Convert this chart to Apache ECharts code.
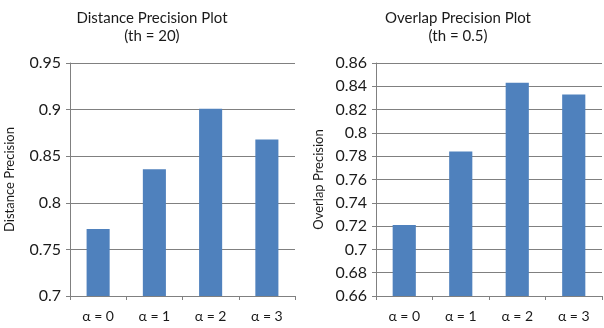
<!DOCTYPE html>
<html><head><meta charset="utf-8">
<script src="https://cdn.jsdelivr.net/npm/echarts@6/dist/echarts.min.js"></script>
<style>html,body{margin:0;padding:0;background:#fff}#c{width:604px;height:328px}</style>
</head><body><div id="c"></div>
<script>
var categories = ['α = 0', 'α = 1', 'α = 2', 'α = 3'];
var distancePrecision = [0.772, 0.836, 0.901, 0.868];
var overlapPrecision = [0.721, 0.784, 0.843, 0.833];
var leftTitle = 'Distance Precision Plot\n(th = 20)';
var rightTitle = 'Overlap Precision Plot\n(th = 0.5)';
var leftAxisName = 'Distance Precision';
var rightAxisName = 'Overlap Precision';

var FONT = 'Lato';
var TXT = '#1a1a1a';
var LINE = '#808080';
var BAR = '#4F81BD';

function xAx(idx) {
  return {
    type: 'category', gridIndex: idx, data: categories,
    axisLine: {lineStyle: {color: LINE}},
    axisTick: {show: true, length: 4, lineStyle: {color: LINE}},
    axisLabel: {color: TXT, fontFamily: FONT, fontSize: 14, margin: 13}
  };
}
function yAx(idx, min, max, interval, name, gap) {
  return {
    type: 'value', gridIndex: idx, min: min, max: max, interval: interval,
    name: name, nameLocation: 'middle', nameGap: gap,
    nameTextStyle: {color: TXT, fontFamily: FONT, fontSize: 13},
    axisLine: {show: true, lineStyle: {color: LINE}},
    axisTick: {show: true, length: 4, lineStyle: {color: LINE}},
    axisLabel: {color: TXT, fontFamily: FONT, fontSize: 16, margin: 9,
      formatter: function (v) { return String(+v.toFixed(3)); }},
    splitLine: {show: true, lineStyle: {color: LINE}}
  };
}
var chart = echarts.init(document.getElementById('c'));
chart.setOption({
  animation: false,
  backgroundColor: '#fff',
  title: [
    {text: leftTitle, left: 147, top: 4, textAlign: 'center',
     textStyle: {color: TXT, fontFamily: FONT, fontSize: 15, fontWeight: 'normal', lineHeight: 18}},
    {text: rightTitle, left: 453, top: 4, textAlign: 'center',
     textStyle: {color: TXT, fontFamily: FONT, fontSize: 15, fontWeight: 'normal', lineHeight: 18}}
  ],
  grid: [
    {left: 70, right: 309, top: 63, bottom: 32},
    {left: 376, right: 2, top: 63, bottom: 32}
  ],
  xAxis: [xAx(0), xAx(1)],
  yAxis: [
    yAx(0, 0.7, 0.95, 0.05, leftAxisName, 54),
    yAx(1, 0.66, 0.86, 0.02, rightAxisName, 51)
  ],
  series: [
    {type: 'bar', xAxisIndex: 0, yAxisIndex: 0, data: distancePrecision, barWidth: '41%', itemStyle: {color: BAR}},
    {type: 'bar', xAxisIndex: 1, yAxisIndex: 1, data: overlapPrecision, barWidth: '41%', itemStyle: {color: BAR}}
  ]
});
</script></body></html>
